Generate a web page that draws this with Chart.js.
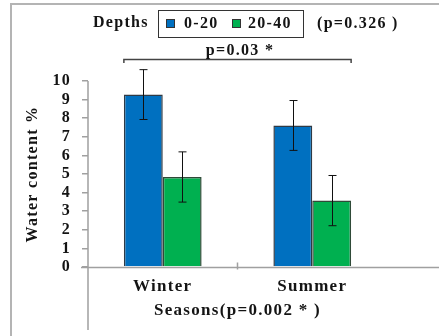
<!DOCTYPE html>
<html>
<head>
<meta charset="utf-8">
<script src="https://cdn.jsdelivr.net/npm/chart.js@4.4.1/dist/chart.umd.min.js"></script>
<style>
  html, body { margin: 0; padding: 0; background: #fff; }
  #wrap { position: relative; width: 439px; height: 336px; }
</style>
</head>
<body>
<div id="wrap"><canvas id="myChart"></canvas></div>
<script>
"use strict";

var seasons = ["Winter", "Summer"];
var depthLabels = ["0-20", "20-40"];
var shallow = [9.27, 7.61];
var shallowErr = [1.34, 1.34];
var deep = [4.84, 3.57];
var deepErr = [1.35, 1.35];
var yMin = 0;
var yMax = 10;
var yStep = 1;

var serif = "'Liberation Serif', 'Times New Roman', serif";
var ink = "#141414";
var blue = "#0070c0";
var green = "#00b050";

// extra drawing: frame, axis lines, error bars, bracket, legend
var extras = {
  id: "extras",
  beforeDraw: function(chart) {
    var ctx = chart.ctx;
    ctx.letterSpacing = "1.3px";
    ctx.save();
    ctx.strokeStyle = "#b4b4b4";
    ctx.lineWidth = 2;
    ctx.beginPath();
    ctx.moveTo(11, 336);
    ctx.lineTo(11, 4);
    ctx.lineTo(439, 4);
    ctx.stroke();
    ctx.restore();
  },
  afterDatasetsDraw: function(chart) {
    var ctx = chart.ctx;
    var x = chart.scales.x;
    var y = chart.scales.y;
    var errs = [shallowErr, deepErr];
    var y0 = Math.round(y.getPixelForValue(0)) + 0.5;

    ctx.save();
    // axis lines
    ctx.strokeStyle = "#a0a0a0";
    ctx.lineWidth = 1.5;
    ctx.beginPath();
    ctx.moveTo(81, y0);
    ctx.lineTo(439, y0);
    ctx.moveTo(y.right, chart.chartArea.top);
    ctx.lineTo(y.right, 330);
    var mid = (x.getPixelForValue(0) + x.getPixelForValue(1)) / 2;
    ctx.moveTo(mid, y0 - 5);
    ctx.lineTo(mid, y0 + 2);
    ctx.stroke();

    // error bars
    ctx.strokeStyle = "#111";
    ctx.lineWidth = 1;
    for (var i = 0; i < chart.data.datasets.length; i++) {
      var meta = chart.getDatasetMeta(i);
      var vals = chart.data.datasets[i].data;
      for (var j = 0; j < meta.data.length; j++) {
        var bx = Math.round(meta.data[j].x) + 0.5;
        var top = y.getPixelForValue(vals[j] + errs[i][j]);
        var bot = y.getPixelForValue(vals[j] - errs[i][j]);
        ctx.beginPath();
        ctx.moveTo(bx, top);
        ctx.lineTo(bx, bot);
        ctx.moveTo(bx - 4, top);
        ctx.lineTo(bx + 4, top);
        ctx.moveTo(bx - 4, bot);
        ctx.lineTo(bx + 4, bot);
        ctx.stroke();
      }
    }

    // bracket between seasons
    var first = chart.getDatasetMeta(0).data[0];
    var last = chart.getDatasetMeta(1).data[1];
    var bl = first.x - first.width / 2;
    var br = last.x + last.width / 2;
    ctx.strokeStyle = "#444";
    ctx.lineWidth = 1.5;
    ctx.beginPath();
    ctx.moveTo(bl, 63);
    ctx.lineTo(bl, 59.5);
    ctx.lineTo(br, 59.5);
    ctx.lineTo(br, 63);
    ctx.stroke();

    ctx.fillStyle = ink;
    ctx.font = "bold 16px " + serif;
    ctx.textBaseline = "alphabetic";
    ctx.textAlign = "center";
    ctx.fillText("p=0.03 *", 240, 55);

    // legend
    ctx.textAlign = "left";
    ctx.fillText("Depths", 93, 27);
    ctx.fillText("(p=0.326 )", 317, 28);
    ctx.strokeStyle = "#333";
    ctx.lineWidth = 1;
    ctx.strokeRect(158.5, 10.5, 145, 27);
    var keyX = [166, 232];
    var textX = [184, 248];
    for (var k = 0; k < chart.data.datasets.length; k++) {
      var ds = chart.data.datasets[k];
      ctx.fillStyle = ds.backgroundColor;
      ctx.fillRect(keyX[k], 19, 8, 8);
      ctx.strokeRect(keyX[k] + 0.5, 19.5, 8, 8);
      ctx.fillStyle = ink;
      ctx.fillText(ds.label, textX[k], 28);
    }
    ctx.restore();
  }
};

var ctx = document.getElementById("myChart").getContext("2d");
var myChart = new Chart(ctx, {
  type: "bar",
  data: {
    labels: seasons,
    datasets: [
      {
        label: depthLabels[0],
        data: shallow,
        backgroundColor: blue,
        borderColor: "#2f3a45",
        borderWidth: 1.5
      },
      {
        label: depthLabels[1],
        data: deep,
        backgroundColor: green,
        borderColor: "#2f4a38",
        borderWidth: 1.5
      }
    ]
  },
  options: {
    responsive: true,
    maintainAspectRatio: false,
    animation: false,
    layout: { padding: { top: 81, right: 52, left: 0, bottom: 0 } },
    datasets: { bar: { barPercentage: 1, categoryPercentage: 0.52 } },
    plugins: {
      legend: { display: false },
      tooltip: { enabled: false }
    },
    scales: {
      x: {
        afterFit: function(scale) { scale.height = 69; },
        border: { display: false },
        grid: { display: false },
        ticks: {
          color: ink,
          padding: 1,
          font: { family: serif, size: 17, weight: "bold" }
        },
        title: {
          display: true,
          text: "Seasons(p=0.002 * )",
          color: ink,
          padding: { top: 2, bottom: 15 },
          font: { family: serif, size: 17, weight: "bold" }
        }
      },
      y: {
        min: yMin,
        max: yMax,
        afterFit: function(scale) { scale.width = 88; },
        border: { display: false },
        grid: {
          drawOnChartArea: false,
          drawTicks: true,
          tickLength: 6,
          color: "#a0a0a0",
          lineWidth: 1.5
        },
        ticks: {
          stepSize: yStep,
          autoSkip: false,
          color: ink,
          padding: 11,
          font: { family: serif, size: 16, weight: "bold" }
        },
        title: {
          display: true,
          text: "Water content %",
          color: ink,
          padding: { top: 23, bottom: 0 },
          font: { family: serif, size: 16, weight: "bold" }
        }
      }
    }
  },
  plugins: [extras]
});
</script>
</body>
</html>
